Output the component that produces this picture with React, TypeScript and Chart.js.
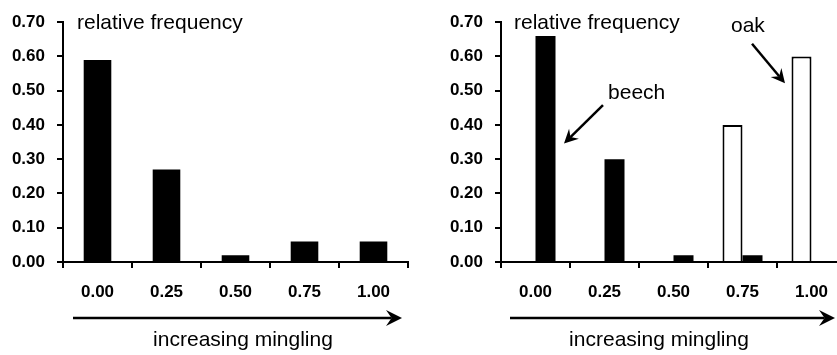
import React, { useEffect, useRef } from 'react';
import { Chart, registerables } from 'chart.js';

Chart.register(...registerables);

// ---- data ----
const categories = ['0.00', '0.25', '0.50', '0.75', '1.00'];
const yTickValues = [0, 0.1, 0.2, 0.3, 0.4, 0.5, 0.6, 0.7];
const allTrees = [0.59, 0.27, 0.02, 0.06, 0.06];
const oak = [null, null, null, 0.40, 0.60];
const beech = [0.66, 0.30, 0.02, 0.02, null];

const FONT = '"Liberation Sans", Arial, Helvetica, sans-serif';

function drawArrow(ctx: CanvasRenderingContext2D, x1: number, y1: number, x2: number, y2: number, lw: number, headLen: number, headHalf: number) {
  const ang = Math.atan2(y2 - y1, x2 - x1);
  const cos = Math.cos(ang), sin = Math.sin(ang);
  const bx = x2 - cos * headLen, by = y2 - sin * headLen;
  const nx = x2 - cos * headLen * 0.65, ny = y2 - sin * headLen * 0.65;
  ctx.beginPath();
  ctx.lineWidth = lw;
  ctx.strokeStyle = '#000';
  ctx.moveTo(x1, y1);
  ctx.lineTo(nx, ny);
  ctx.stroke();
  ctx.beginPath();
  ctx.fillStyle = '#000';
  ctx.moveTo(x2, y2);
  ctx.lineTo(bx - sin * headHalf, by + cos * headHalf);
  ctx.lineTo(nx, ny);
  ctx.lineTo(bx + sin * headHalf, by - cos * headHalf);
  ctx.closePath();
  ctx.fill();
}

const annotPlugin = {
  id: 'annot',
  afterDraw(chart: any, _args: any, opts: any) {
    const { ctx, chartArea } = chart;
    const xs = chart.scales.x;
    const ys = chart.scales.y;
    ctx.save();
    ctx.fillStyle = '#000';
    ctx.font = `21px ${FONT}`;
    ctx.textBaseline = 'alphabetic';
    if (opts.yTitle) {
      ctx.textAlign = 'left';
      ctx.fillText(opts.yTitle.text, chartArea.left + opts.yTitle.dx, chartArea.top + opts.yTitle.dy);
    }
    if (opts.axisArrow) {
      const y = chartArea.bottom + opts.axisArrow.dy;
      drawArrow(ctx, chartArea.left + opts.axisArrow.dx1, y, chartArea.left + opts.axisArrow.dx2, y, 2.5, 16, 8);
    }
    if (opts.xTitle) {
      ctx.textAlign = 'center';
      ctx.fillText(opts.xTitle.text, chartArea.left + opts.xTitle.dx, chartArea.bottom + opts.xTitle.dy);
    }
    (opts.callouts || []).forEach((c: any) => {
      ctx.textAlign = 'left';
      ctx.fillStyle = '#000';
      ctx.font = `21px ${FONT}`;
      ctx.fillText(c.text, xs.getPixelForValue(c.x), ys.getPixelForValue(c.y));
      drawArrow(
        ctx,
        xs.getPixelForValue(c.from[0]), ys.getPixelForValue(c.from[1]),
        xs.getPixelForValue(c.to[0]), ys.getPixelForValue(c.to[1]),
        2.5, 14, 7
      );
    });
    ctx.restore();
  },
};

function makeScales(yWidth: number) {
  return {
    x: {
      type: 'category',
      offset: true,
      grid: {
        display: true, offset: true, drawOnChartArea: false, drawTicks: true,
        tickLength: 6, color: '#000', lineWidth: 2,
      },
      border: { display: true, color: '#000', width: 2 },
      ticks: {
        color: '#000', font: { family: FONT, size: 17, weight: 'bold' },
        padding: 14, maxRotation: 0, autoSkip: false,
      },
      afterFit: (s: any) => { s.height = 93; },
    },
    y: {
      min: 0,
      max: 0.7,
      grid: {
        display: true, drawOnChartArea: false, drawTicks: true,
        tickLength: 6, color: '#000', lineWidth: 2,
      },
      border: { display: true, color: '#000', width: 2 },
      ticks: {
        color: '#000', font: { family: FONT, size: 17, weight: 'bold' },
        padding: 12,
        callback: (v: any) => Number(v).toFixed(2),
      },
      afterBuildTicks: (s: any) => { s.ticks = yTickValues.map((v) => ({ value: v })); },
      afterFit: (s: any) => { s.width = yWidth; },
    },
  };
}

function Panel(props: { width: number; left: number; config: any }) {
  const ref = useRef<HTMLCanvasElement>(null);
  useEffect(() => {
    if (!ref.current) return;
    const chart = new Chart(ref.current, props.config);
    return () => chart.destroy();
  }, []);
  return (
    <div style={{ position: 'absolute', left: props.left, top: 0, width: props.width, height: 355 }}>
      <canvas ref={ref} width={props.width} height={355} style={{ display: 'block', width: props.width, height: 355 }} />
    </div>
  );
}

const leftConfig = {
  type: 'bar',
  data: {
    labels: categories,
    datasets: [
      { label: 'all', data: allTrees, backgroundColor: '#000', borderWidth: 0, barPercentage: 0.4, categoryPercentage: 1 },
    ],
  },
  options: {
    responsive: false,
    animation: false,
    devicePixelRatio: 1,
    layout: { padding: { top: 19, right: 12, left: 0, bottom: 0 } },
    scales: makeScales(63),
    plugins: {
      legend: { display: false },
      tooltip: { enabled: false },
      annot: {
        yTitle: { text: 'relative frequency', dx: 14, dy: 7 },
        axisArrow: { dx1: 10, dx2: 339, dy: 56 },
        xTitle: { text: 'increasing mingling', dx: 180, dy: 84 },
      },
    },
  },
  plugins: [annotPlugin],
};

const rightConfig = {
  type: 'bar',
  data: {
    labels: categories,
    datasets: [
      {
        label: 'oak', data: oak, backgroundColor: '#fff', borderColor: '#000', borderWidth: 2,
        borderSkipped: 'start', barPercentage: 1, categoryPercentage: 0.58,
      },
      {
        label: 'beech', data: beech, backgroundColor: '#000', borderWidth: 0,
        barPercentage: 1, categoryPercentage: 0.58,
      },
    ],
  },
  options: {
    responsive: false,
    animation: false,
    devicePixelRatio: 1,
    layout: { padding: { top: 19, right: 14, left: 0, bottom: 0 } },
    scales: makeScales(81),
    plugins: {
      legend: { display: false },
      tooltip: { enabled: false },
      annot: {
        yTitle: { text: 'relative frequency', dx: 13, dy: 7 },
        axisArrow: { dx1: 9, dx2: 334, dy: 56 },
        xTitle: { text: 'increasing mingling', dx: 158, dy: 84 },
        callouts: [
          { text: 'beech', x: 1.051, y: 0.475, from: [0.978, 0.458], to: [0.413, 0.346] },
          { text: 'oak', x: 2.833, y: 0.671, from: [3.138, 0.637], to: [3.616, 0.522] },
        ],
      },
    },
  },
  plugins: [annotPlugin],
};

export default function App() {
  return (
    <div style={{ position: 'fixed', left: 0, top: 0, width: 837, height: 355, overflow: 'hidden', background: '#fff' }}>
      <Panel width={420} left={0} config={leftConfig} />
      <Panel width={440} left={420} config={rightConfig} />
    </div>
  );
}
